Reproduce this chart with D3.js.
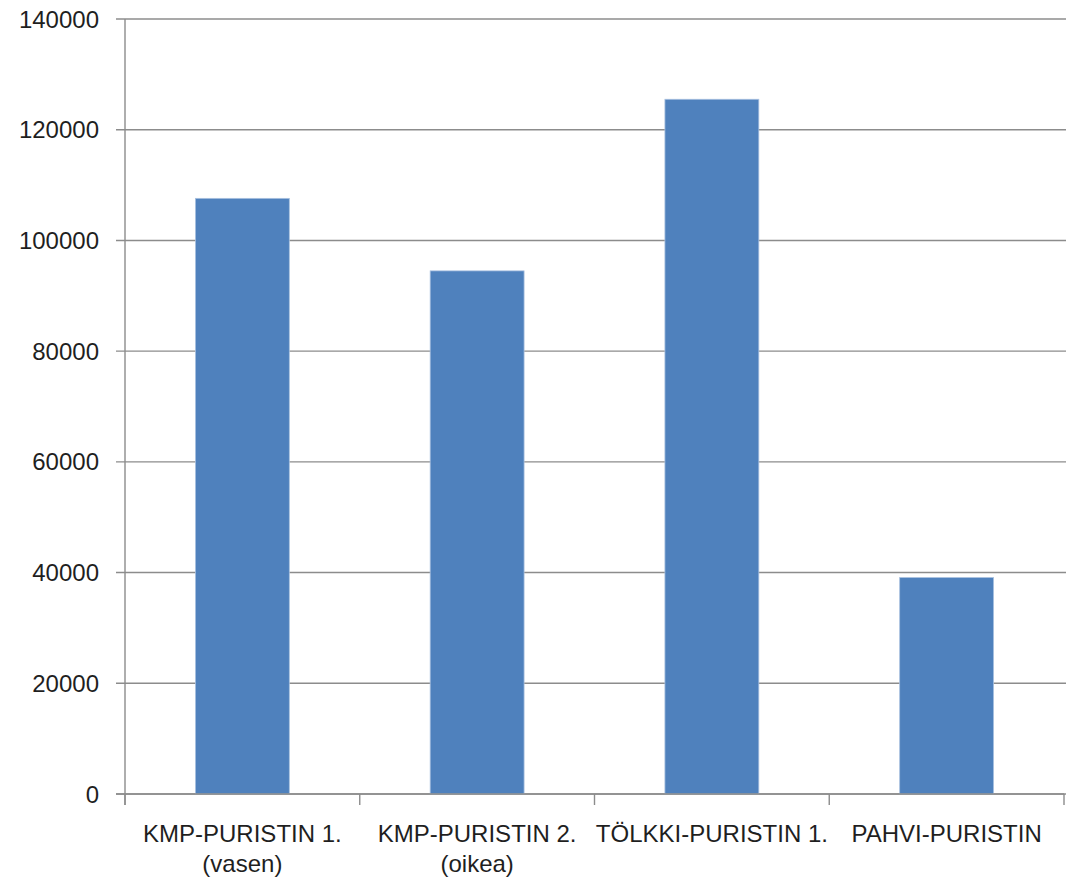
<!DOCTYPE html>
<html>
<head>
<meta charset="utf-8">
<script src="https://cdn.jsdelivr.net/npm/d3@7"></script>
<style>
  html, body { margin: 0; padding: 0; background: #fff; }
  svg { display: block; }
  text { font-family: "Liberation Sans", Arial, sans-serif; fill: #1f1f1f; }
</style>
</head>
<body>
<svg id="chart" width="1066" height="883"></svg>
<script>
// Category labels (each entry is one label, split into lines)
const categories = [
  ["KMP-PURISTIN 1.", "(vasen)"],
  ["KMP-PURISTIN 2.", "(oikea)"],
  ["TÖLKKI-PURISTIN 1."],
  ["PAHVI-PURISTIN"]
];
const values = [107600, 94500, 125500, 39100];
const yTicks = [0, 20000, 40000, 60000, 80000, 100000, 120000, 140000];

const svg = d3.select("#chart");
const plot = { left: 125, right: 1064, top: 19, bottom: 794 };
const gridColor = "#8c8c8c";

const x = d3.scaleBand()
  .domain(d3.range(categories.length))
  .range([plot.left, plot.right])
  .paddingInner(0.6)
  .paddingOuter(0.3);

const xCat = d3.scaleBand()
  .domain(d3.range(categories.length))
  .range([plot.left, plot.right])
  .padding(0);

const y = d3.scaleLinear().domain([0, 140000]).range([plot.bottom, plot.top]);

// Horizontal gridlines
svg.append("g")
  .selectAll("line")
  .data(yTicks)
  .join("line")
  .attr("x1", plot.left - 9)
  .attr("x2", 1066)
  .attr("y1", d => y(d))
  .attr("y2", d => y(d))
  .attr("stroke", gridColor)
  .attr("stroke-width", 1.4);

// Y axis labels
svg.append("g")
  .selectAll("text")
  .data(yTicks)
  .join("text")
  .attr("x", 99)
  .attr("y", d => y(d))
  .attr("dy", "0.36em")
  .attr("text-anchor", "end")
  .attr("font-size", 24)
  .text(d => d);

// Bars
svg.append("g")
  .selectAll("rect")
  .data(values)
  .join("rect")
  .attr("x", (d, i) => x(i))
  .attr("width", x.bandwidth())
  .attr("y", d => y(d))
  .attr("height", d => y(0) - y(d))
  .attr("fill", "#4f81bd")
  .attr("stroke", "#a9c1e0")
  .attr("stroke-width", 0.8);

// Y axis line
svg.append("line")
  .attr("x1", plot.left).attr("x2", plot.left)
  .attr("y1", plot.top).attr("y2", plot.bottom + 11)
  .attr("stroke", gridColor)
  .attr("stroke-width", 1.4);

// X axis line
svg.append("line")
  .attr("x1", plot.left - 9).attr("x2", plot.right)
  .attr("y1", plot.bottom).attr("y2", plot.bottom)
  .attr("stroke", gridColor)
  .attr("stroke-width", 1.4);

// Category tick marks at band boundaries
const boundaries = d3.range(categories.length + 1).map(i =>
  i < categories.length ? xCat(i) : xCat(i - 1) + xCat.bandwidth());
svg.append("g")
  .selectAll("line")
  .data(boundaries)
  .join("line")
  .attr("x1", d => d).attr("x2", d => d)
  .attr("y1", plot.bottom).attr("y2", plot.bottom + 11)
  .attr("stroke", gridColor)
  .attr("stroke-width", 1.4);

// Category labels
const labels = svg.append("g")
  .selectAll("text")
  .data(categories)
  .join("text")
  .attr("text-anchor", "middle")
  .attr("font-size", 24)
  .attr("transform", (d, i) => `translate(${xCat(i) + xCat.bandwidth() / 2},842)`);
labels.selectAll("tspan")
  .data(d => d)
  .join("tspan")
  .attr("x", 0)
  .attr("y", (d, j) => j * 30)
  .text(d => d);
</script>
</body>
</html>
